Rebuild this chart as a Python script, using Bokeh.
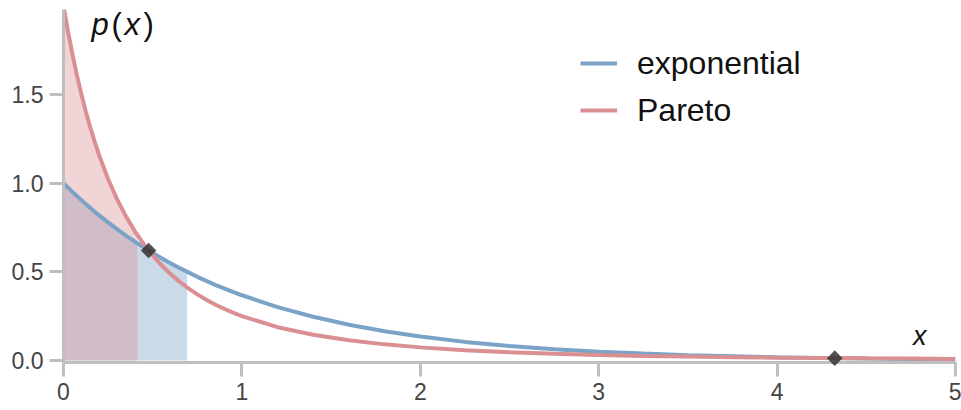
from bokeh.plotting import figure
from bokeh.models import Range1d, FixedTicker, Label, Legend, LegendItem, PrintfTickFormatter
from bokeh.embed import file_html
from bokeh.resources import INLINE

# Densities sampled along x: exponential (rate 1) and Pareto / Lomax (alpha 2, scale 1)
x_grid = [0, 0.025, 0.05, 0.075, 0.1, 0.125, 0.15, 0.175, 0.2, 0.25, 0.3, 0.35,
          0.4, 0.45, 0.5, 0.55, 0.6, 0.65, 0.7, 0.75, 0.8, 0.85, 0.9, 0.95, 1.0,
          1.2, 1.4, 1.6, 1.8, 2.0, 2.25, 2.5, 2.75, 3.0, 3.25, 3.5, 3.75, 4.0,
          4.25, 4.5, 4.75, 5.0]
exp_pdf = [1.000, 0.975, 0.951, 0.928, 0.905, 0.882, 0.861, 0.839, 0.819, 0.779,
           0.741, 0.705, 0.670, 0.638, 0.607, 0.577, 0.549, 0.522, 0.497, 0.472,
           0.449, 0.427, 0.407, 0.387, 0.368, 0.301, 0.247, 0.202, 0.165, 0.135,
           0.105, 0.082, 0.064, 0.050, 0.039, 0.030, 0.024, 0.018, 0.014, 0.011,
           0.009, 0.007]
pareto_pdf = [2.000, 1.857, 1.728, 1.610, 1.503, 1.405, 1.315, 1.233, 1.157, 1.024,
              0.910, 0.813, 0.729, 0.656, 0.593, 0.537, 0.488, 0.445, 0.407, 0.373,
              0.343, 0.316, 0.292, 0.270, 0.250, 0.188, 0.145, 0.114, 0.091, 0.074,
              0.058, 0.047, 0.038, 0.031, 0.026, 0.022, 0.019, 0.016, 0.014, 0.012,
              0.011, 0.009]

# Medians and the density values there (edges of the shaded areas)
exp_median, exp_at_median = 0.693, 0.500
pareto_median, pareto_at_median = 0.414, 0.707

# Points where the two densities cross
cross_x = [0.477, 4.323]
cross_y = [0.620, 0.0133]

x_ticks = [0, 1, 2, 3, 4, 5]
y_ticks = [0, 0.5, 1.0, 1.5]

BLUE = "#7ba3c8"
RED = "#da8f92"
AXIS = "#bfbfbf"
FONT = "Liberation Sans"
INK = "#111111"

# the axis line sits just under y = 0, so the range starts a hair below zero
p = figure(width=961, height=410, x_range=Range1d(0, 5), y_range=Range1d(-0.0113, 1.98),
           output_backend="svg", toolbar_location=None,
           min_border_left=63, min_border_right=6, min_border_top=9,
           min_border_bottom=48)
p.outline_line_color = None
p.grid.visible = False
p.background_fill_color = "white"

for ax in (p.xaxis, p.yaxis):
    ax.axis_line_color = AXIS
    ax.axis_line_width = 3
    ax.major_tick_line_color = AXIS
    ax.major_tick_line_width = 3
    ax.major_tick_out = 14
    ax.major_tick_in = 0
    ax.minor_tick_out = 0
    ax.minor_tick_in = 0
    ax.major_label_text_font = FONT
    ax.major_label_text_font_size = "23px"
    ax.major_label_text_color = "#444444"
p.xaxis.major_label_standoff = 6
p.yaxis.major_label_standoff = 6
p.xaxis.ticker = FixedTicker(ticks=x_ticks)
p.yaxis.ticker = FixedTicker(ticks=y_ticks)
p.yaxis.formatter = PrintfTickFormatter(format="%.1f")


def below(xs, ys, edge_x, edge_y):
    sx = [x for x in xs if x < edge_x] + [edge_x]
    sy = [y for x, y in zip(xs, ys) if x < edge_x] + [edge_y]
    return sx, sy


ex_x, ex_y = below(x_grid, exp_pdf, exp_median, exp_at_median)
pa_x, pa_y = below(x_grid, pareto_pdf, pareto_median, pareto_at_median)

# Area up to each median
p.varea(x=ex_x, y1=0, y2=ex_y, fill_color=BLUE, fill_alpha=0.4)
p.varea(x=pa_x, y1=0, y2=pa_y, fill_color=RED, fill_alpha=0.38)

blue_line = p.line(x_grid, exp_pdf, line_color=BLUE, line_width=4)
red_line = p.line(x_grid, pareto_pdf, line_color=RED, line_width=4)

# crossing markers: squares turned 45 degrees
p.scatter(cross_x, cross_y, marker="square", size=11, angle=45, angle_units="deg",
          fill_color="#333333", fill_alpha=0.85, line_color=None, level="overlay")

legend = Legend(items=[LegendItem(label="exponential", renderers=[blue_line]),
                       LegendItem(label="Pareto", renderers=[red_line])],
                location=(517, 232), border_line_color=None,
                background_fill_alpha=0, label_text_font=FONT,
                label_text_font_size="32px", label_text_color=INK,
                glyph_width=37, glyph_height=40, label_height=40,
                label_standoff=20, spacing=7, padding=0, margin=0)
p.add_layout(legend)

# p(x): italic letters, upright parentheses
for txt, dx, style in [("p", 0, "italic"), ("(", 20, "normal"),
                       ("x", 33, "italic"), (")", 52, "normal")]:
    p.add_layout(Label(x=0.157, y=1.895, x_offset=dx, text=txt, text_font=FONT,
                       text_font_style=style, text_font_size="31px",
                       text_baseline="middle", text_align="left", text_color=INK))
p.add_layout(Label(x=4.80, y=0.141, text="x", text_font=FONT,
                   text_font_style="italic", text_font_size="27px",
                   text_baseline="middle", text_align="center", text_color=INK))

open("out.html", "w").write(file_html(p, INLINE))
